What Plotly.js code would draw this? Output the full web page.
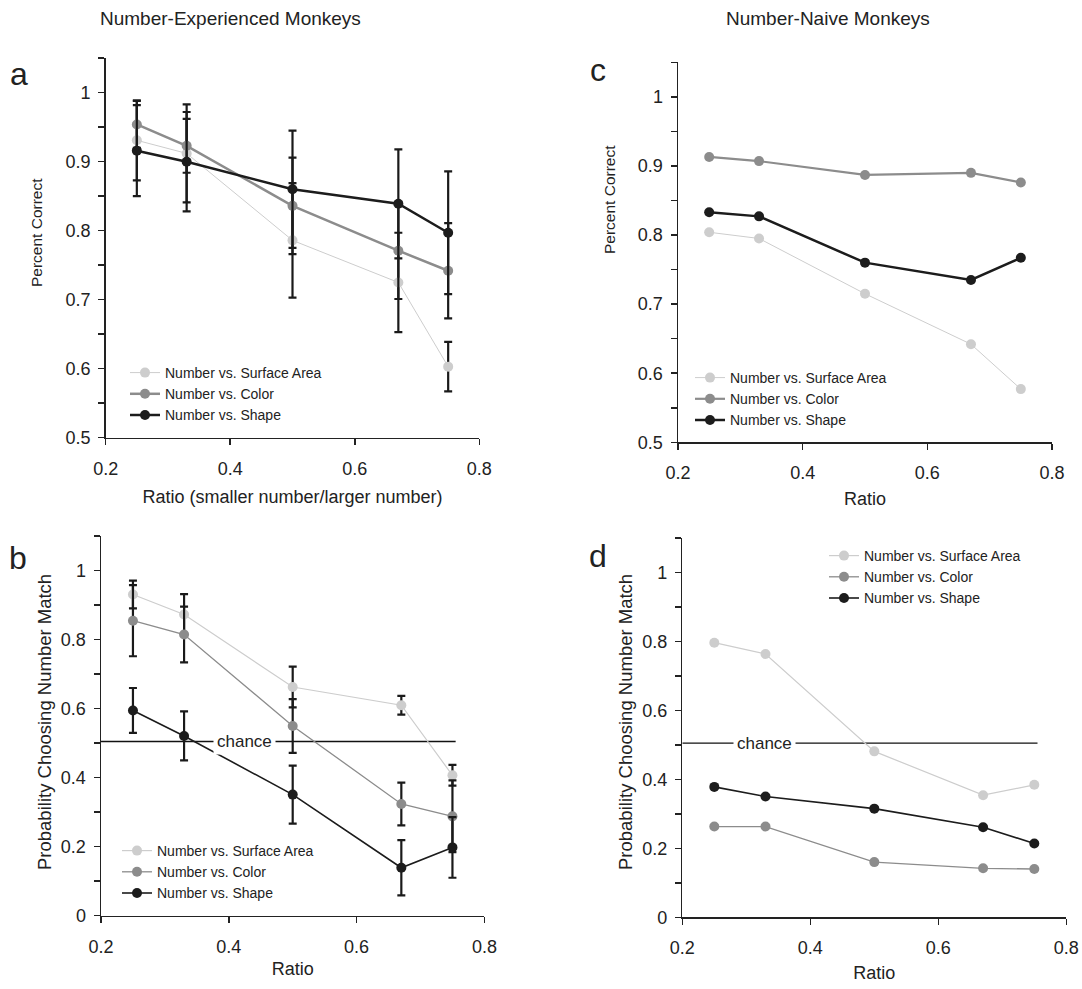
<!DOCTYPE html>
<html><head><meta charset="utf-8">
<script src="https://cdn.plot.ly/plotly-3.0.1.min.js"></script>
<style>html,body{margin:0;padding:0;background:#fff}#chart{width:1082px;height:989px}</style>
</head><body><div id="chart"></div>
<script>
// ---------- data ----------
const ratio = [0.25, 0.33, 0.5, 0.67, 0.75];
const seriesNames = ['Number vs. Surface Area', 'Number vs. Color', 'Number vs. Shape'];

// a: Number-experienced, percent correct
const expCorrectSurface = [0.931, 0.912, 0.786, 0.725, 0.603];
const expCorrectSurfaceErr = [0.058, 0.071, 0.083, 0.072, 0.036];
const expCorrectColor = [0.954, 0.923, 0.836, 0.771, 0.742];
const expCorrectColorErr = [0.034, 0.039, 0.070, 0.070, 0.069];
const expCorrectShape = [0.916, 0.900, 0.860, 0.839, 0.797];
const expCorrectShapeErr = [0.066, 0.072, 0.085, 0.079, 0.089];

// b: Number-experienced, probability choosing number match
const expProbSurface = [0.931, 0.873, 0.663, 0.610, 0.407];
const expProbSurfaceErr = [0.040, 0.059, 0.059, 0.027, 0.030];
const expProbColor = [0.855, 0.815, 0.550, 0.324, 0.288];
const expProbColorErr = [0.103, 0.081, 0.078, 0.062, 0.104];
const expProbShape = [0.595, 0.521, 0.351, 0.139, 0.198];
const expProbShapeErr = [0.065, 0.071, 0.084, 0.080, 0.088];

// c: Number-naive, percent correct
const naiveCorrectSurface = [0.804, 0.795, 0.715, 0.642, 0.577];
const naiveCorrectColor = [0.913, 0.907, 0.887, 0.890, 0.876];
const naiveCorrectShape = [0.833, 0.827, 0.760, 0.735, 0.767];

// d: Number-naive, probability choosing number match
const naiveProbSurface = [0.796, 0.763, 0.481, 0.354, 0.384];
const naiveProbColor = [0.263, 0.263, 0.160, 0.142, 0.140];
const naiveProbShape = [0.378, 0.350, 0.315, 0.261, 0.214];

// chance reference line
const chanceX = [0.2, 0.755];
const chanceY = [0.505, 0.505];
const chanceLabelXb = 0.424;
const chanceLabelXd = 0.329;

// ---------- style ----------
const FONT = 'Liberation Sans, Arial, Helvetica, sans-serif';
const INK = '#222222';
const C = ['#cdcdcd', '#8c8c8c', '#1c1c1c'];

function series(x, y, i, xa, ya, leg, width, err) {
  const t = {
    type: 'scatter', mode: 'lines+markers', x: x, y: y, name: seriesNames[i],
    xaxis: xa, yaxis: ya, legend: leg,
    line: {color: C[i], width: width},
    marker: {color: C[i], size: 10},
    cliponaxis: false
  };
  if (err) {
    t.error_y = {type: 'data', array: err, visible: true, color: '#1a1a1a', thickness: 2.2, width: 4};
  }
  return t;
}

const traces = [
  series(ratio, expCorrectSurface, 0, 'x', 'y', 'legend', 1, expCorrectSurfaceErr),
  series(ratio, expCorrectColor, 1, 'x', 'y', 'legend', 2.5, expCorrectColorErr),
  series(ratio, expCorrectShape, 2, 'x', 'y', 'legend', 2.5, expCorrectShapeErr),

  {type: 'scatter', mode: 'lines', x: chanceX, y: chanceY, xaxis: 'x2', yaxis: 'y2',
   line: {color: '#111', width: 1.3}, showlegend: false, hoverinfo: 'skip', cliponaxis: false},
  series(ratio, expProbSurface, 0, 'x2', 'y2', 'legend2', 1.2, expProbSurfaceErr),
  series(ratio, expProbColor, 1, 'x2', 'y2', 'legend2', 1.3, expProbColorErr),
  series(ratio, expProbShape, 2, 'x2', 'y2', 'legend2', 1.6, expProbShapeErr),

  series(ratio, naiveCorrectSurface, 0, 'x3', 'y3', 'legend3', 1),
  series(ratio, naiveCorrectColor, 1, 'x3', 'y3', 'legend3', 2.2),
  series(ratio, naiveCorrectShape, 2, 'x3', 'y3', 'legend3', 2.5),

  {type: 'scatter', mode: 'lines', x: chanceX, y: chanceY, xaxis: 'x4', yaxis: 'y4',
   line: {color: '#111', width: 1.3}, showlegend: false, hoverinfo: 'skip', cliponaxis: false},
  series(ratio, naiveProbSurface, 0, 'x4', 'y4', 'legend4', 1.2),
  series(ratio, naiveProbColor, 1, 'x4', 'y4', 'legend4', 1.3),
  series(ratio, naiveProbShape, 2, 'x4', 'y4', 'legend4', 1.6)
];

const W = 1082, H = 989;
const px = v => v / W;
const py = v => 1 - v / H;

function xAx(d0, d1, anchor, title, standoff) {
  return {
    domain: [px(d0), px(d1)], anchor: anchor, range: [0.2, 0.8],
    tickmode: 'linear', tick0: 0.2, dtick: 0.2,
    ticks: 'outside', ticklen: 6, tickwidth: 1.5, tickcolor: INK,
    showline: true, linecolor: INK, linewidth: 1.5,
    showgrid: false, zeroline: false,
    tickfont: {family: FONT, size: 18, color: INK}, ticklabelstandoff: 8,
    title: {text: title, font: {family: FONT, size: 18, color: INK}, standoff: standoff}
  };
}
function yAx(top, bottom, anchor, range, dtick, mdtick) {
  return {
    domain: [py(bottom), py(top)], anchor: anchor, range: range,
    tickmode: 'linear', tick0: 0, dtick: dtick,
    ticks: 'outside', ticklen: 6, tickwidth: 1.5, tickcolor: INK,
    minor: {ticks: 'outside', ticklen: 6, tickwidth: 1.5, tickcolor: INK, dtick: mdtick, tick0: 0, showgrid: false},
    showline: true, linecolor: INK, linewidth: 1.5,
    showgrid: false, zeroline: false,
    tickfont: {family: FONT, size: 18, color: INK}, ticklabelstandoff: 4
  };
}
function yOver(over, anchor, range, dtick, mdtick) {
  return {
    overlaying: over, anchor: anchor, side: 'left', range: range,
    tickmode: 'linear', tick0: 0, dtick: dtick,
    ticks: 'inside', ticklen: 5, tickwidth: 1.5, tickcolor: INK,
    minor: {ticks: 'inside', ticklen: 5, tickwidth: 1.5, tickcolor: INK, dtick: mdtick, tick0: 0, showgrid: false},
    showticklabels: false, showline: false, showgrid: false, zeroline: false
  };
}

function legendAt(textX, rowY) {
  return {x: px(textX - 40), y: py(rowY - 12), xanchor: 'left', yanchor: 'top',
          bgcolor: 'rgba(0,0,0,0)', font: {family: FONT, size: 14, color: INK},
          tracegroupgap: 0, itemclick: false, itemdoubleclick: false};
}

function ann(text, x, y, size, extra) {
  return Object.assign({text: text, x: px(x), y: py(y), xref: 'paper', yref: 'paper',
    showarrow: false, xanchor: 'center', yanchor: 'middle',
    font: {family: FONT, size: size, color: INK}}, extra || {});
}

const layout = {
  width: W, height: H, margin: {l: 0, r: 0, t: 0, b: 0},
  paper_bgcolor: '#fff', plot_bgcolor: 'rgba(0,0,0,0)',
  font: {family: FONT, color: INK},
  showlegend: true, hovermode: false,
  xaxis: xAx(105.7, 479.3, 'y', 'Ratio (smaller number/larger number)', 12),
  yaxis: yAx(58.2, 437.7, 'x', [0.5, 1.05], 0.1, 0.05),
  xaxis2: xAx(101, 484.4, 'y2', 'Ratio', 6),
  yaxis2: yAx(536.2, 915.7, 'x2', [0, 1.1], 0.2, 0.1),
  xaxis3: xAx(678, 1052, 'y3', 'Ratio', 10),
  yaxis3: yAx(62.3, 442.3, 'x3', [0.5, 1.05], 0.1, 0.05),
  xaxis4: xAx(682.3, 1066.3, 'y4', 'Ratio', 9),
  yaxis4: yAx(537.8, 917.3, 'x4', [0, 1.1], 0.2, 0.1),
  yaxis5: yOver('y', 'x', [0.5, 1.05], 0.1, 0.05),
  yaxis6: yOver('y2', 'x2', [0, 1.1], 0.2, 0.1),
  yaxis7: yOver('y3', 'x3', [0.5, 1.05], 0.1, 0.05),
  yaxis8: yOver('y4', 'x4', [0, 1.1], 0.2, 0.1),
  legend: legendAt(165, 369),
  legend2: legendAt(157, 847),
  legend3: legendAt(730, 374),
  legend4: legendAt(864, 552),
  annotations: [
    ann('Number-Experienced Monkeys', 230, 18, 19),
    ann('Number-Naive Monkeys', 828, 18, 19),
    ann('a', 19, 74, 32),
    ann('b', 18, 558, 32),
    ann('c', 598, 70, 32),
    ann('d', 598, 556, 32),
    ann('Percent Correct', 37, 233, 15.5, {textangle: -90}),
    ann('Probability Choosing Number Match', 44, 722, 18.5, {textangle: -90}),
    ann('Percent Correct', 610, 200, 15.5, {textangle: -90}),
    ann('Probability Choosing Number Match', 625, 722, 18.5, {textangle: -90}),
    {text: 'chance', x: chanceLabelXb, y: chanceY[0], xref: 'x2', yref: 'y2', showarrow: false,
     bgcolor: '#ffffff', borderpad: 3, font: {family: FONT, size: 17, color: INK}},
    {text: 'chance', x: chanceLabelXd, y: chanceY[0], xref: 'x4', yref: 'y4', showarrow: false,
     bgcolor: '#ffffff', borderpad: 3, font: {family: FONT, size: 17, color: INK}}
  ]
};

Plotly.newPlot('chart', traces, layout, {staticPlot: true, displayModeBar: false});
</script></body></html>
